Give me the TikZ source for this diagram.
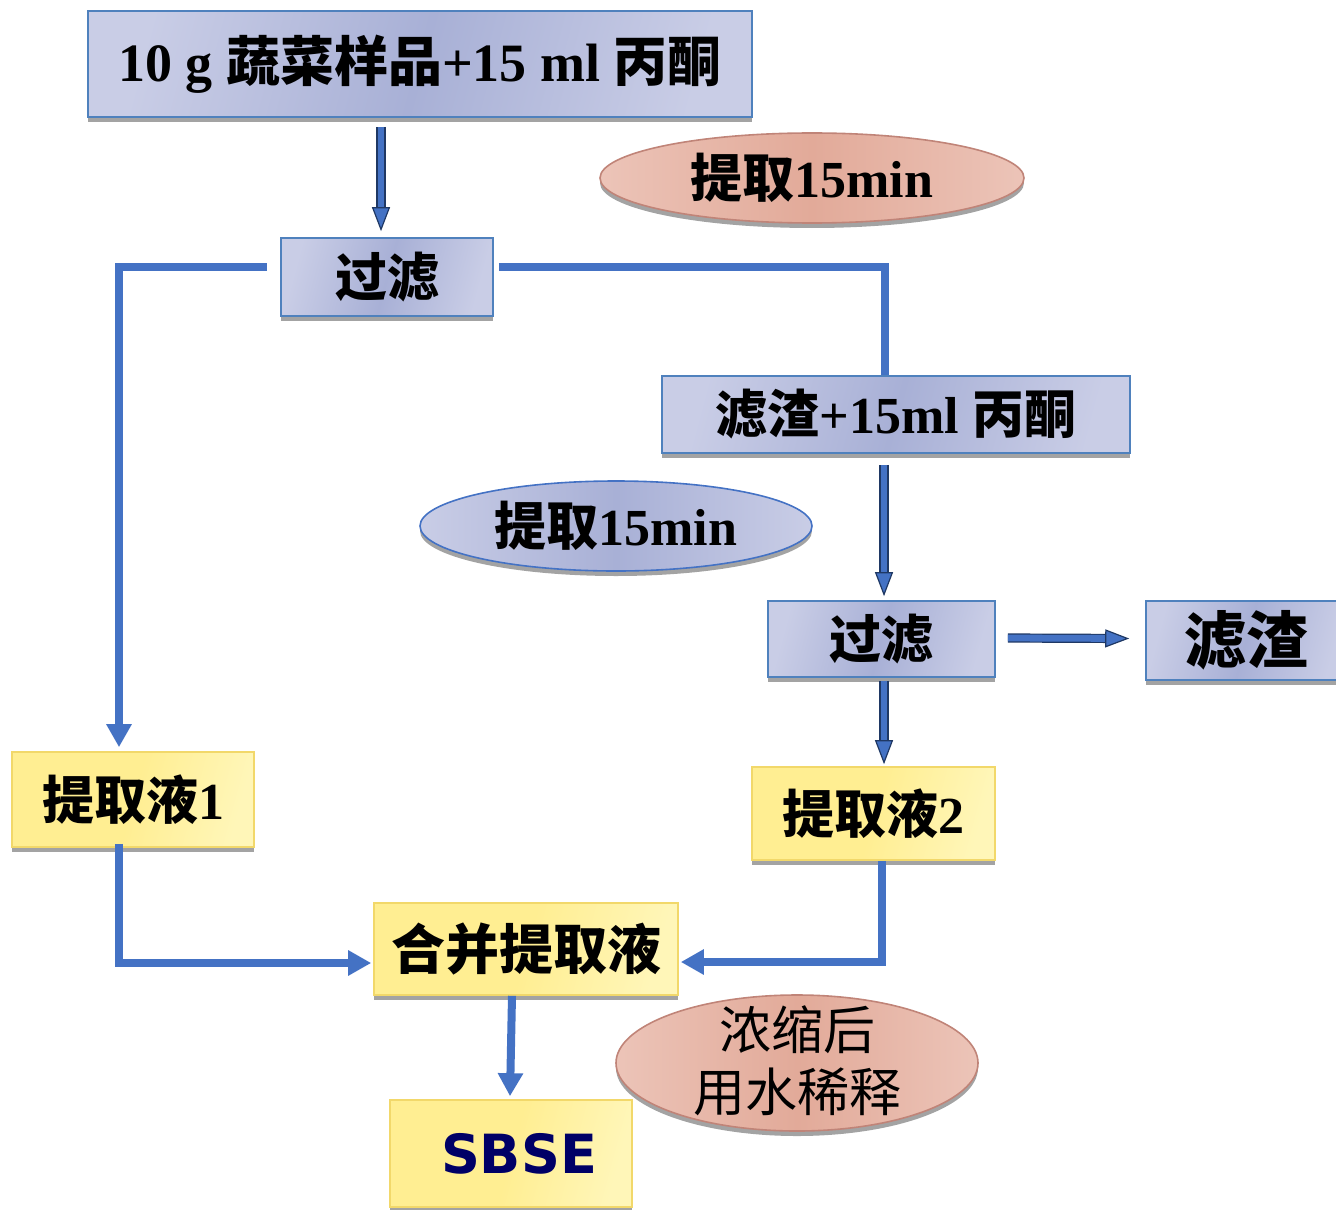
\documentclass[tikz,border=0pt]{standalone}
\usepackage{fontspec}
\setmainfont{Liberation Serif}
\newfontfamily\zh{Noto Sans CJK SC}
\newfontfamily\sbsefont{DejaVu Sans}
\usetikzlibrary{shapes.geometric,shadows,arrows.meta,calc}
\definecolor{bxborder}{HTML}{4F81BD}
\definecolor{bxL}{HTML}{C9CDE6}
\definecolor{bxM}{HTML}{A8B0D6}
\definecolor{yL}{HTML}{FFF6B8}
\definecolor{yM}{HTML}{FFEE92}
\definecolor{yborder}{HTML}{F2D86A}
\definecolor{pkL}{HTML}{ECC4B8}
\definecolor{pkM}{HTML}{E2AA99}
\definecolor{pkborder}{HTML}{C08478}
\definecolor{arrblue}{HTML}{4472C4}
\definecolor{arrdark}{HTML}{1F3864}
\definecolor{navytext}{HTML}{000066}
\definecolor{shadowgray}{HTML}{A3A3A3}
\tikzset{
  shad/.style={drop shadow={shadow xshift=0pt, shadow yshift=-2.5pt, fill=shadowgray, opacity=1}},
  bluebox/.style={shad, draw=bxborder, line width=0.8pt, left color=bxL, right color=bxL, middle color=bxM, shading angle=75, inner sep=0pt},
  yellowbox/.style={shad, draw=yborder, line width=0.8pt, left color=yM, right color=yL, middle color=yM, shading angle=75, inner sep=0pt},
  pinkell/.style={shad, ellipse, draw=pkborder, line width=0.8pt, left color=pkL, right color=pkL, middle color=pkM, inner sep=0pt},
  blueell/.style={shad, ellipse, draw=arrblue, line width=0.8pt, left color=bxL, right color=bxL, middle color=bxM, inner sep=0pt},
  blockarr/.style={line width=3.4pt, draw=arrblue, -{Triangle[width=9pt,length=12pt,fill=arrblue,color=arrdark,line width=0.6pt]},
     preaction={draw=arrdark, line width=4.6pt, -, shorten >=9pt}},
  conn/.style={line width=4pt, draw=arrblue, -{Triangle[width=12pt,length=11.5pt]}},
  connplain/.style={line width=4pt, draw=arrblue},
}
\begin{document}
\begin{tikzpicture}[x=0.5pt,y=-0.5pt]
\useasboundingbox (0,0) rectangle (1336,1209);
% nodes
\node[bluebox, minimum width=332pt, minimum height=53pt] (b1) at (420,64)
  {\bfseries\fontsize{27pt}{32pt}\selectfont 10 g {\zh 蔬菜样品}+15 ml {\zh 丙酮}};
\node[pinkell, minimum width=212pt, minimum height=45pt] (e1) at (812,178)
  {\bfseries\fontsize{26pt}{30pt}\selectfont{\zh 提取}15min};
\node[bluebox, minimum width=106pt, minimum height=39pt] (f1) at (387,277)
  {\bfseries\fontsize{26pt}{30pt}\selectfont\zh 过滤};
\node[bluebox, minimum width=234pt, minimum height=38.5pt] (r1) at (896,414.5)
  {\bfseries\fontsize{26pt}{30pt}\selectfont{\zh 滤渣}+15ml {\zh 丙酮}};
\node[blueell, minimum width=196pt, minimum height=45pt] (e2) at (616,526)
  {\bfseries\fontsize{26pt}{30pt}\selectfont{\zh 提取}15min};
\node[bluebox, minimum width=113.5pt, minimum height=38pt] (f2) at (881.5,639)
  {\bfseries\fontsize{26pt}{30pt}\selectfont\zh 过滤};
\node[bluebox, minimum width=100pt, minimum height=39.5pt] (zz) at (1246,640.5)
  {\bfseries\fontsize{31pt}{34pt}\selectfont\zh 滤渣};
\node[yellowbox, minimum width=121pt, minimum height=47.5pt] (y0) at (133,799.5)
  {\bfseries\fontsize{26pt}{30pt}\selectfont{\zh 提取液}1};
\node[yellowbox, minimum width=121.5pt, minimum height=46.5pt] (y1) at (873.5,813.5)
  {\bfseries\fontsize{26pt}{30pt}\selectfont{\zh 提取液}2};
\node[yellowbox, minimum width=152pt, minimum height=46pt] (hb) at (526,949)
  {\bfseries\fontsize{27pt}{30pt}\selectfont\zh 合并提取液};
\node[yellowbox, minimum width=121pt, minimum height=53.5pt] (sb) at (511,1153.5)
  {\hspace*{8pt}\sbsefont\bfseries\fontsize{27pt}{30pt}\selectfont\color{navytext}SBSE};
\node[pinkell, minimum width=181pt, minimum height=68pt] (e3) at (797,1063) {};
\node[align=center, inner sep=0pt, font=\zh\fontsize{26pt}{31pt}\selectfont] (e3t) at (797,1061) {浓缩后\\用水稀释};
% block arrows
\draw[blockarr] ($(b1.south)+(-39,9)$) -- ($(f1.north)+(-6,-6)$);
\draw[blockarr] ($(r1.south)+(-12,11)$) -- ($(f2.north)+(2.5,-4)$);
\draw[blockarr] ($(f2.east)+(12,-1)$) -- ($(zz.west)+(-16,-2)$);
\draw[blockarr] ($(f2.south)+(2.5,3)$) -- ($(y1.north)+(10.5,-2)$);
% connectors
\draw[conn] ($(f1.west)+(-13,-10)$) -| ($(y0.north)+(-14,-4)$);
\draw[connplain] ($(f1.east)+(5,-10)$) -| ($(r1.north)+(-11,0)$);
\draw[conn] ($(y0.south)+(-14,-4)$) |- ($(hb.west)+(-2,14)$);
\draw[conn] ($(y1.south)+(8.5,0)$) |- ($(hb.east)+(2,13)$);
\draw[conn] ($(hb.south)+(-14,0)$) -- ($(sb.north)+(-1,-3)$);
\end{tikzpicture}
\end{document}
